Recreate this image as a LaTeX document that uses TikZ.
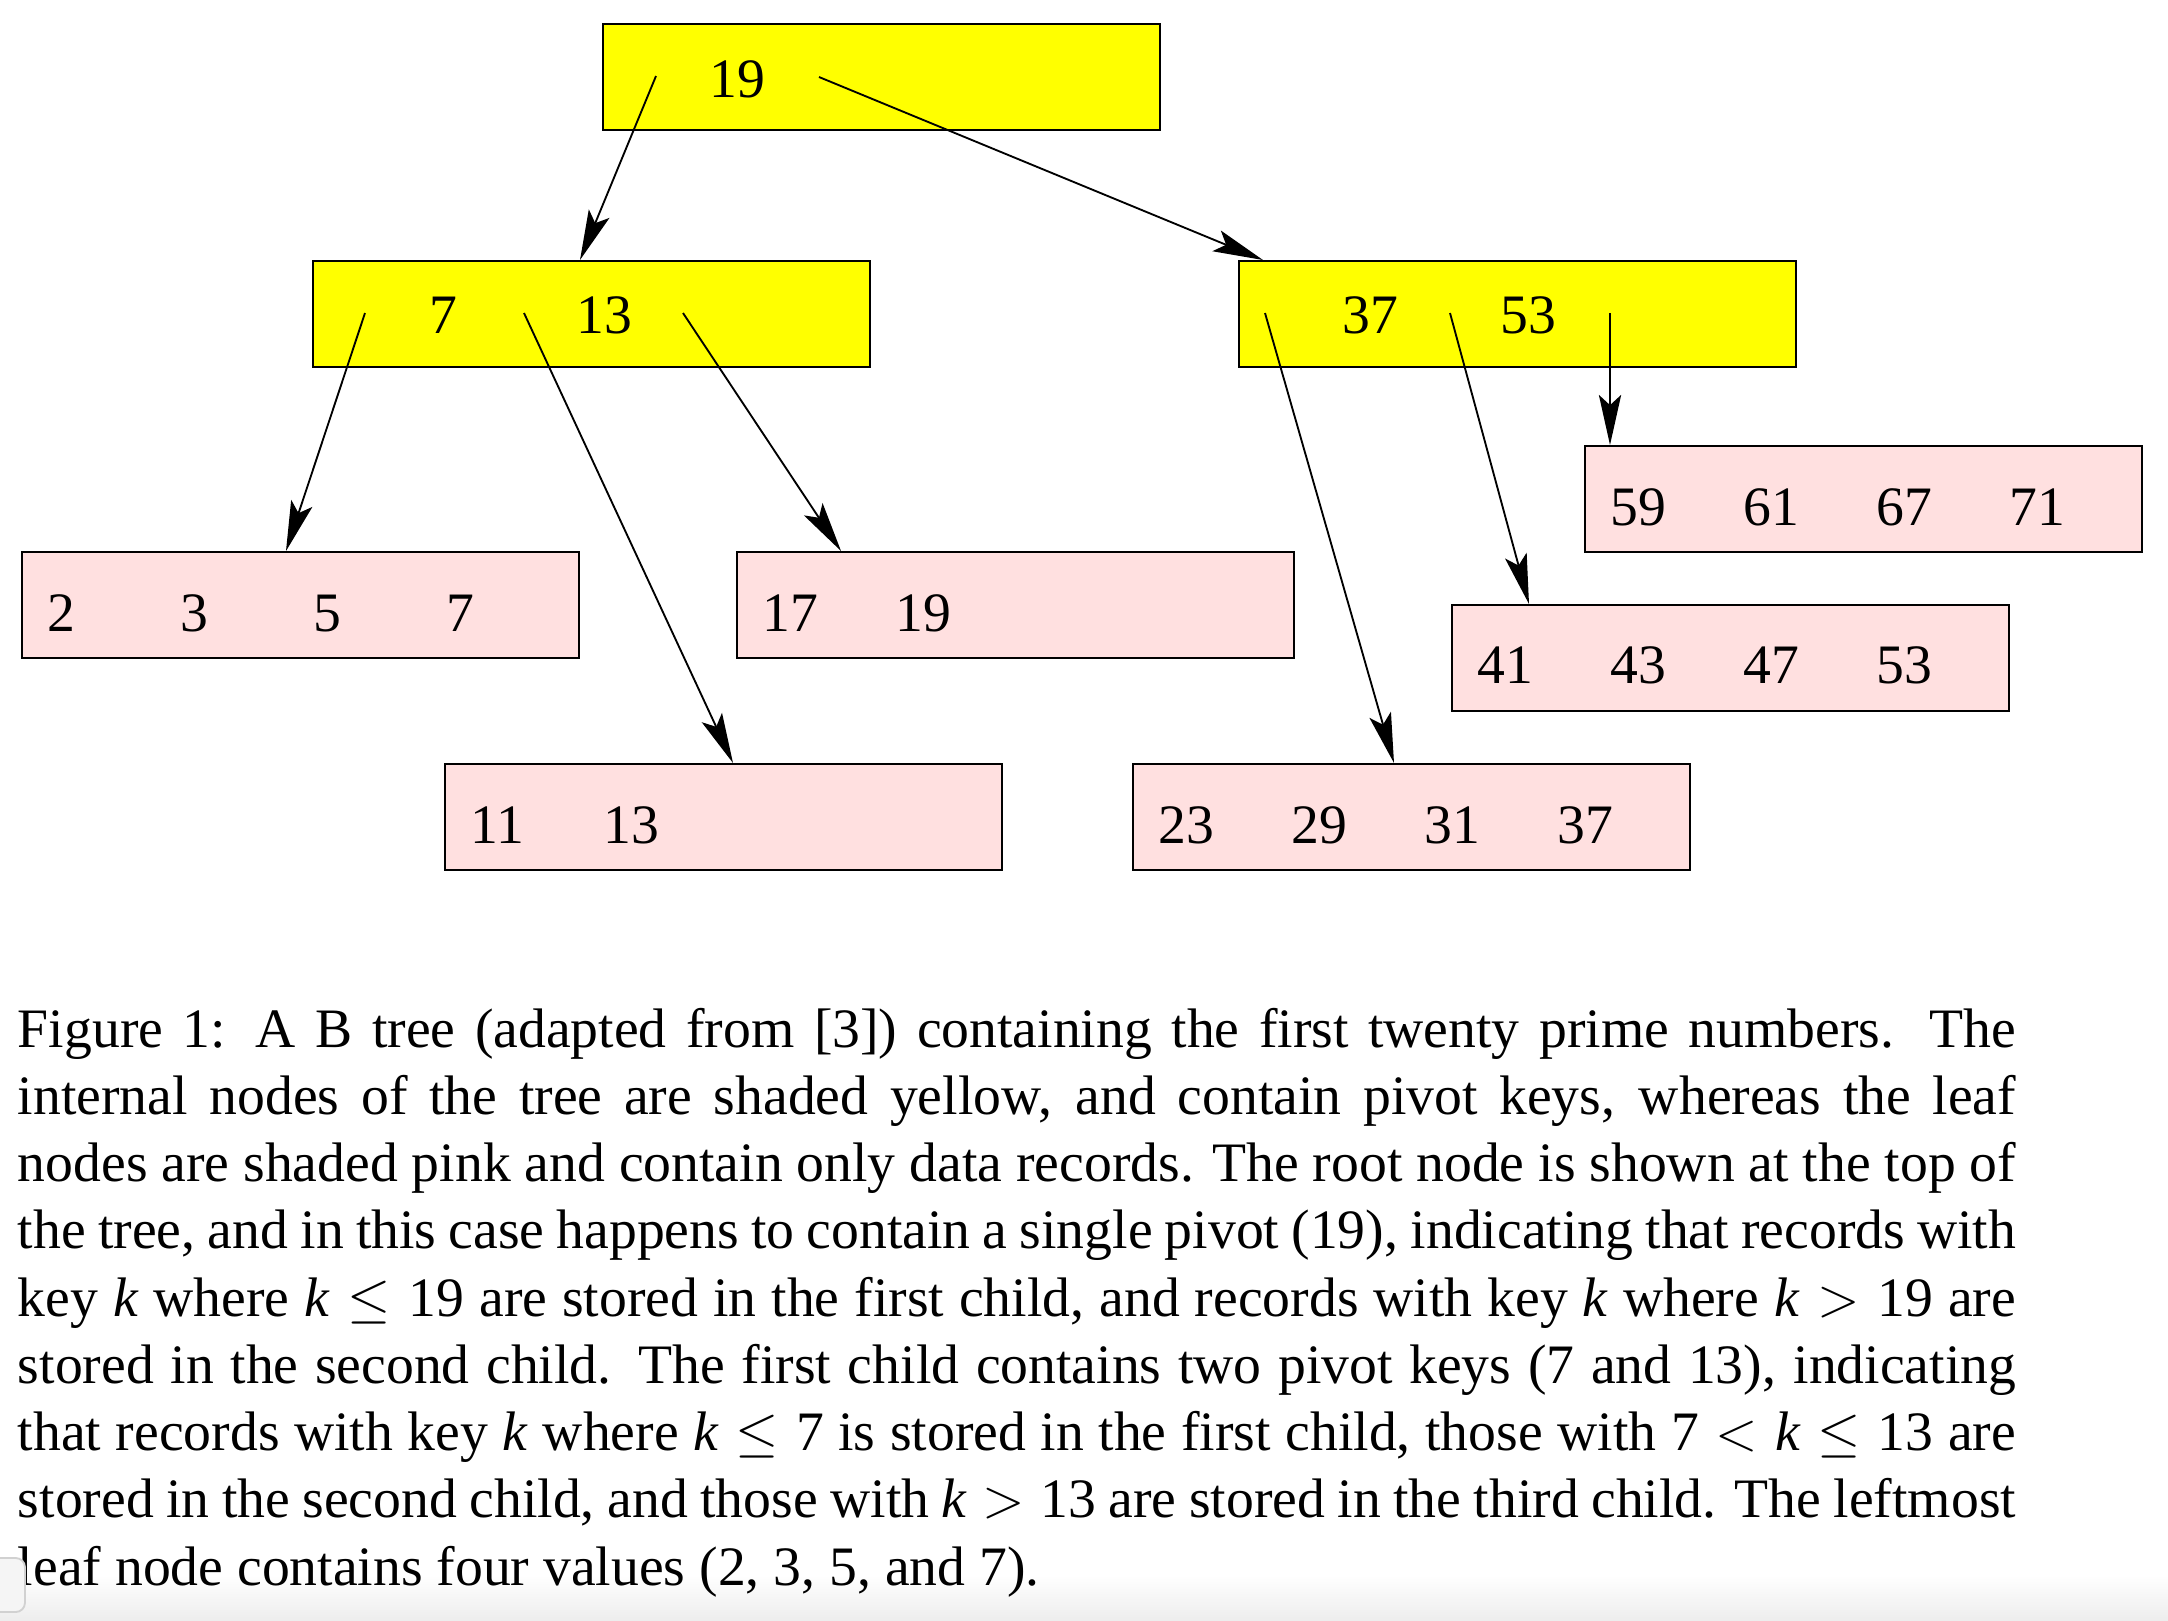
\documentclass[tikz,border=0pt]{standalone}
\usepackage{fontspec}
\setmainfont{Liberation Serif}
\usetikzlibrary{arrows.meta,calc}
\definecolor{leafpink}{RGB}{255,224,224}
\definecolor{intyellow}{RGB}{255,255,0}
\newcommand\capline[1]{\hbox to\linewidth{#1}}
\newcommand\kk{\textit{k}}
\newcommand\rel[1]{${}#1{}$}
\begin{document}
\begin{tikzpicture}[x=0.2156pt,y=-0.2156pt,
  boxbase/.style={draw=black, line width=0.45pt, rectangle, inner sep=0pt,
    anchor=north west, minimum width=120.1pt, minimum height=22.85pt},
  ibox/.style={boxbase, fill=intyellow},
  lbox/.style={boxbase, fill=leafpink},
  ikey/.style={inner sep=0pt, anchor=base, font=\fontsize{12}{14.5}\selectfont},
  lkey/.style={inner sep=0pt, anchor=base west, font=\fontsize{12}{14.5}\selectfont},
  ptr/.style={line width=0.4pt, -{Stealth[length=10.8pt,width=4.8pt,inset=2.2pt]}}]
\useasboundingbox (0,0) rectangle (2168,1620);
\fill[white] (0,0) rectangle (2168,1620);
\shade[top color=white,bottom color=black!7] (0,1575) rectangle (2168,1620);

% boxes
\node[ibox] (root) at (602,23) {};
\node[ibox] (intL) at (312,260) {};
\node[ibox] (intR) at (1238,260) {};
\node[lbox] (leaf1) at (21,551) {};
\node[lbox] (leaf17) at (736,551) {};
\node[lbox] (leaf11) at (444,763) {};
\node[lbox] (leaf23) at (1132,763) {};
\node[lbox] (leaf59) at (1584,445) {};
\node[lbox] (leaf41) at (1451,604) {};

% internal keys
\node[ikey] (k19) at (737,97) {19};
\node[ikey] (k7) at (443,333) {7};
\node[ikey] (k13) at (604,333) {13};
\node[ikey] (k37) at (1370,333) {37};
\node[ikey] (k53) at (1528,333) {53};

% leaf keys
\foreach \v [count=\i] in {2,3,5,7}
  \node[lkey] (la\i) at ($(leaf1.north west)+({26+133*(\i-1)},80)$) {\v};
\foreach \v [count=\i] in {17,19}
  \node[lkey] (lb\i) at ($(leaf17.north west)+({26+133*(\i-1)},80)$) {\v};
\foreach \v [count=\i] in {11,13}
  \node[lkey] (lc\i) at ($(leaf11.north west)+({26+133*(\i-1)},80)$) {\v};
\foreach \v [count=\i] in {23,29,31,37}
  \node[lkey] (ld\i) at ($(leaf23.north west)+({26+133*(\i-1)},80)$) {\v};
\foreach \v [count=\i] in {59,61,67,71}
  \node[lkey] (le\i) at ($(leaf59.north west)+({26+133*(\i-1)},80)$) {\v};
\foreach \v [count=\i] in {41,43,47,53}
  \node[lkey] (lf\i) at ($(leaf41.north west)+({26+133*(\i-1)},79)$) {\v};

% pointer start points
\coordinate (rp1) at (656,76);
\coordinate (rp2) at (819,77);
\coordinate (lp1) at (365,313);
\coordinate (lp2) at (524,313);
\coordinate (lp3) at (683,313);
\coordinate (rq1) at (1265,313);
\coordinate (rq2) at (1450,313);
\coordinate (rq3) at (1610,313);

% pointer targets
\coordinate (tL) at ($(intL.north west)+(268,0)$);
\coordinate (tR) at ($(intR.north west)+(25,0)$);
\coordinate (t1) at ($(leaf1.north west)+(265,0)$);
\coordinate (t11) at ($(leaf11.north west)+(289,0)$);
\coordinate (t17) at ($(leaf17.north west)+(105,0)$);
\coordinate (t23) at ($(leaf23.north west)+(262,0)$);
\coordinate (t41) at ($(leaf41.north west)+(78,0)$);
\coordinate (t59) at ($(leaf59.north west)+(26,0)$);

\draw[ptr] (rp1) -- (tL);
\draw[ptr] (rp2) -- (tR);
\draw[ptr] (lp1) -- (t1);
\draw[ptr] (lp2) -- (t11);
\draw[ptr] (lp3) -- (t17);
\draw[ptr] (rq1) -- (t23);
\draw[ptr] (rq2) -- (t41);
\draw[ptr] (rq3) -- (t59);

% caption
\node[anchor=base west, inner sep=0pt, font=\fontsize{12}{14.5}\selectfont] (cap) at (17,1047)
{\parbox[t]{430.8pt}{%
\capline{Figure 1:  A B tree (adapted from [3]) containing the first twenty prime numbers.  The}%
\capline{internal nodes of the tree are shaded yellow, and contain pivot keys, whereas the leaf}%
\capline{nodes are shaded pink and contain only data records. The root node is shown at the top of}%
\capline{the tree, and in this case happens to contain a single pivot (19), indicating that records with}%
\capline{key \kk{} where \kk\rel{\leq}19 are stored in the first child, and records with key \kk{} where \kk\rel{>}19 are}%
\capline{stored in the second child.  The first child contains two pivot keys (7 and 13), indicating}%
\capline{that records with key \kk{} where \kk\rel{\leq}7 is stored in the first child, those with 7\rel{<}\kk\rel{\leq}13 are}%
\capline{stored in the second child, and those with \kk\rel{>}13 are stored in the third child. The leftmost}%
\noindent leaf node contains four values (2, 3, 5, and 7).}};

\draw[black!18, fill=black!4, rounded corners=2pt] (-10,1558) rectangle (25,1612);
\end{tikzpicture}
\end{document}
